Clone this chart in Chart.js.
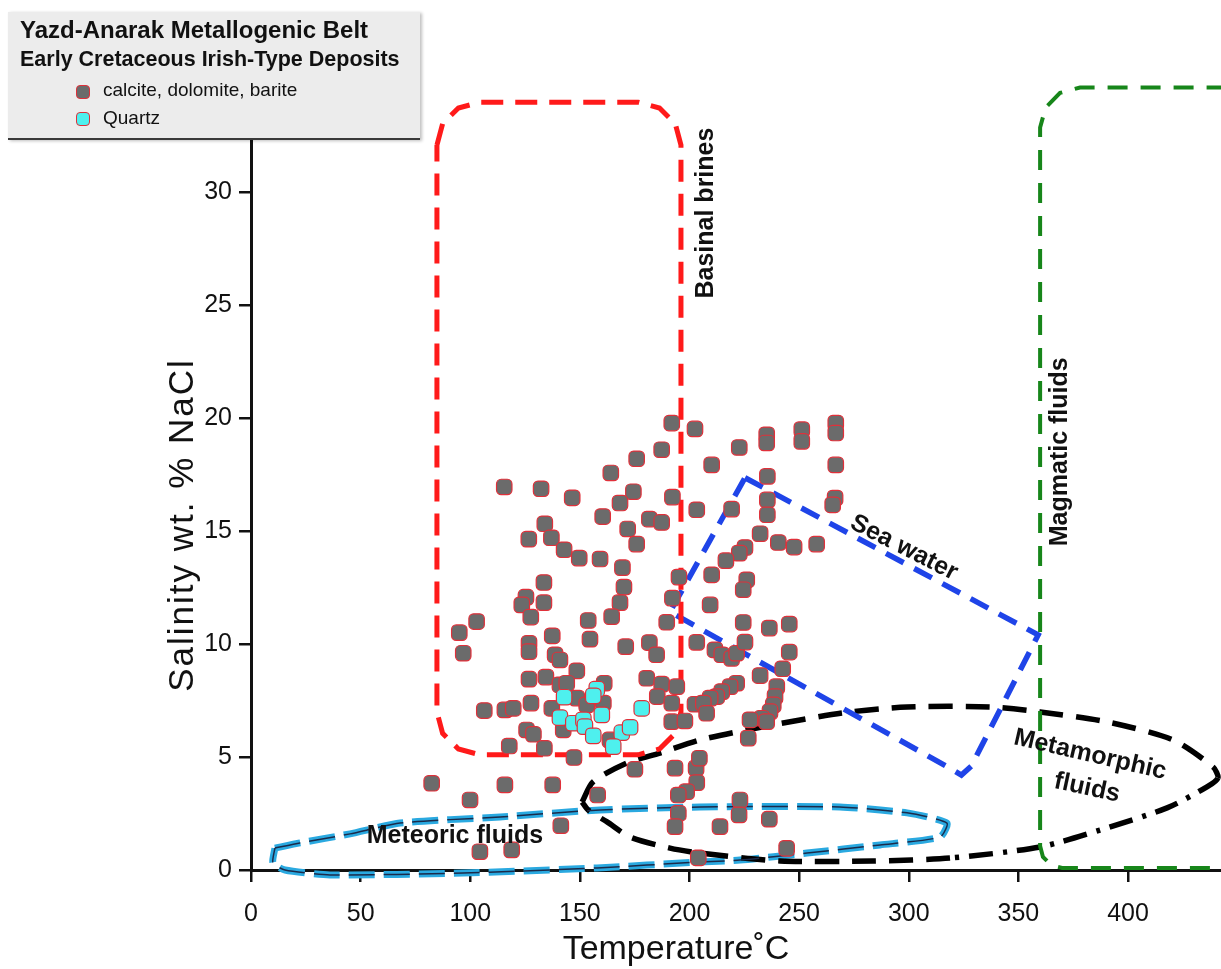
<!DOCTYPE html>
<html>
<head>
<meta charset="utf-8">
<script src="https://cdn.jsdelivr.net/npm/chart.js@4.4.1/dist/chart.umd.min.js"></script>
<style>
  html, body { margin: 0; background: #fff; overflow: hidden; }
  #wrap { position: relative; width: 1221px; height: 969px; }
  #chart { display: block; }
  #key {
    position: absolute; left: 8px; top: 12px; width: 412px; height: 126px;
    background: #ececec; border-bottom: 2px solid #3a3a3a;
    box-shadow: 2px 1px 3px rgba(0,0,0,0.25);
    font-family: "Liberation Sans", Arial, sans-serif; color: #111;
  }
  #key div { position: absolute; white-space: nowrap; line-height: 1; }
  .t1 { left: 12px; top: 6px; font-size: 24px; font-weight: bold; }
  .t2 { left: 12px; top: 37px; font-size: 21.5px; font-weight: bold; }
  .lab { left: 95px; font-size: 19px; }
  .mk { left: 68px; width: 12px; height: 12px; border-radius: 4px; border: 1.5px solid #e0303a; }
</style>
</head>
<body>
<div id="wrap">
  <canvas id="chart" width="1221" height="969"></canvas>
  <div id="key">
    <div class="t1">Yazd-Anarak Metallogenic Belt</div>
    <div class="t2">Early Cretaceous Irish-Type Deposits</div>
    <div class="mk" style="top:73px;background:#6b6b6b"></div>
    <div class="lab" style="top:68px">calcite, dolomite, barite</div>
    <div class="mk" style="top:100px;background:#4ef0ee"></div>
    <div class="lab" style="top:96px">Quartz</div>
  </div>
</div>
<script>
// axis ticks
const xTicks = [0, 50, 100, 150, 200, 250, 300, 350, 400];
const yTicks = [0, 5, 10, 15, 20, 25, 30];

// fluid inclusions, calcite / dolomite / barite: homogenisation temp (C) and salinity (wt.% NaCl)
const calciteT = [191.9, 202.5, 187.3, 175.9, 164.1, 115.5, 132.3, 146.5, 174.4, 168.3,
  192.2, 160.4, 181.7, 187.3, 203.3, 134.0, 126.7, 137.0, 171.8, 175.9,
  142.8, 149.7, 159.2, 169.4, 133.6, 170.1, 195.2, 192.2, 125.4, 133.6,
  168.3, 123.5, 222.7, 210.1, 235.2, 235.2, 251.2, 251.2, 266.7, 266.7,
  266.7, 235.5, 219.2, 235.5, 235.5, 266.4, 265.3, 232.2, 240.5, 247.7,
  258.0, 225.3, 222.7, 216.6, 210.1, 226.1, 224.5, 209.4, 127.6, 102.9,
  153.8, 164.5, 189.6, 95.0, 137.4, 154.6, 126.8, 126.8, 96.8, 170.9,
  181.7, 185.0, 138.7, 140.9, 148.6, 126.8, 134.5, 140.9, 144.0, 161.1,
  180.5, 187.3, 194.2, 185.3, 127.7, 148.6, 153.1, 160.7, 137.2, 106.4,
  115.8, 119.6, 191.9, 202.5, 142.4, 125.7, 128.8, 191.9, 197.9, 117.8,
  133.8, 147.3, 163.7, 175.1, 193.4, 203.0, 82.4, 115.8, 137.6, 224.5,
  236.4, 245.5, 203.3, 211.6, 214.7, 219.2, 221.5, 225.3, 245.5, 242.5,
  232.2, 221.5, 218.5, 214.7, 212.4, 209.4, 206.3, 207.8, 239.8, 239.0,
  238.2, 236.7, 232.9, 227.6, 235.2, 226.8, 204.5, 203.3, 198.7, 194.9,
  223.0, 222.6, 194.9, 193.4, 213.9, 236.4, 204.0, 244.3, 99.9, 158.1,
  141.3, 104.4, 118.9];
const calciteS = [19.79, 19.53, 18.61, 18.21, 17.58, 16.96, 16.88, 16.48, 16.75, 16.25,
  16.51, 15.65, 15.54, 15.39, 15.95, 15.33, 14.65, 14.71, 15.10, 14.43,
  14.18, 13.81, 13.77, 13.39, 12.73, 12.53, 12.97, 12.04, 12.08, 11.84,
  11.84, 11.74, 18.71, 17.94, 19.27, 18.91, 19.50, 18.98, 19.79, 19.35,
  17.94, 17.43, 15.98, 16.39, 15.73, 16.47, 16.17, 14.89, 14.50, 14.30,
  14.43, 14.28, 14.03, 13.70, 13.07, 12.85, 12.41, 11.74, 11.20, 11.00,
  11.05, 11.22, 10.97, 10.51, 10.37, 10.22, 10.04, 9.67, 9.60, 9.89,
  10.07, 9.53, 9.53, 9.30, 8.82, 8.45, 8.54, 8.20, 8.27, 8.27,
  8.49, 8.23, 8.12, 7.68, 7.39, 7.61, 7.31, 7.39, 7.16, 7.06,
  7.09, 7.16, 7.39, 7.34, 6.20, 6.20, 6.01, 6.57, 6.60, 5.49,
  5.39, 4.98, 5.76, 4.46, 4.51, 4.51, 3.84, 3.77, 3.77, 10.96,
  10.71, 10.89, 10.08, 9.75, 9.53, 9.37, 9.60, 10.09, 9.65, 8.91,
  8.61, 8.27, 8.12, 7.90, 7.68, 7.61, 7.39, 6.94, 8.12, 7.68,
  7.31, 7.01, 6.72, 6.65, 6.57, 5.84, 4.95, 3.87, 3.47, 3.32,
  3.10, 2.44, 2.51, 1.92, 1.92, 2.25, 0.54, 0.96, 3.10, 3.32,
  1.96, 0.81, 0.89];

// fluid inclusions in quartz
const quartzT = [142.8, 157.7, 156.1, 140.9, 147.0, 151.6, 152.3, 160.0, 156.1, 178.2, 169.1, 172.9, 165.2];
const quartzS = [7.65, 8.01, 7.71, 6.75, 6.50, 6.65, 6.35, 6.87, 5.94, 7.16, 6.08, 6.32, 5.46];

// fluid fields, outlines as [temp, salinity]
const basinalBrines = [[84.8, 32.1], [87.4, 33.05], [94.6, 33.74], [104.4, 34.0], [176.5, 34.0],
  [186.3, 33.74], [193.5, 33.05], [196.1, 32.1], [196.1, 7.0], [193.5, 6.05], [186.3, 5.36],
  [176.5, 5.1], [104.4, 5.1], [94.6, 5.36], [87.4, 6.05], [84.8, 7.0], [84.8, 32.1]];
const magmaticFluids = [[460, 34.65], [378.1, 34.65], [369.0, 34.41], [362.4, 33.76], [359.9, 32.88],
  [359.9, 1.06], [361.2, 0.58], [364.9, 0.22], [369.9, 0.09], [460, 0.09]];
const seaWater = [[225.3, 17.37], [359.0, 10.41], [328.5, 4.6], [324.0, 4.2], [318.0, 4.55],
  [191.1, 11.43], [225.3, 17.37]];
const metamorphicFluids = [[151.0, 3.01], [156.0, 3.90], [171.5, 4.74], [186.5, 5.18], [204.8, 5.76],
  [233.5, 6.34], [270.0, 6.96], [299.2, 7.22], [337.1, 7.22], [359.9, 7.00], [390.4, 6.56],
  [420.5, 5.76], [438.8, 4.56], [441.0, 4.08], [436.0, 3.68], [417.8, 2.75], [387.2, 1.77],
  [359.9, 1.02], [318.8, 0.53], [283.7, 0.40], [241.3, 0.40], [204.8, 0.75], [191.1, 0.97],
  [172.9, 1.46], [162.4, 2.13], [153.7, 2.66], [151.0, 3.01]];
const meteoricFluids = [[10.9, 0.97], [22.3, 1.20], [45.2, 1.60], [68.0, 2.08], [113.6, 2.35],
  [159.2, 2.66], [204.8, 2.79], [268.6, 2.79], [299.2, 2.53], [317.4, 2.08], [314.3, 1.46],
  [286.9, 1.11], [253.6, 0.75], [223.0, 0.44], [203.4, 0.35], [157.8, 0.09], [96.7, -0.13],
  [36.0, -0.22], [15.5, 0.0], [10.0, 0.31], [10.9, 0.97]];

const FONT = '"Liberation Sans", Arial, sans-serif';

function toXY(xs, ys) {
  return xs.map((v, i) => ({ x: v, y: ys[i] }));
}

function outline(pts, color, width, dash, extra) {
  return Object.assign({
    data: pts.map(p => ({ x: p[0], y: p[1] })),
    showLine: true,
    borderColor: color,
    borderWidth: width,
    borderDash: dash,
    pointRadius: 0,
    fill: false,
    tension: 0,
    order: 2
  }, extra || {});
}

function inclusions(xs, ys, fill, order) {
  return {
    data: toXY(xs, ys),
    pointStyle: 'rectRounded',
    pointRadius: 9,
    backgroundColor: fill,
    borderColor: '#e0303a',
    borderWidth: 1.2,
    order: order
  };
}

// text on the diagram: field names and axis titles
const fieldLabels = {
  id: 'fieldLabels',
  afterDatasetsDraw(chart) {
    const { ctx, chartArea, scales: { x, y } } = chart;
    const notes = [
      ['Basinal brines', 207.5, 29.09, -90],
      ['Magmatic fluids', 369.0, 18.52, -90],
      ['Sea water', 297.8, 14.27, 27],
      ['Metamorphic', 382.7, 5.10, 13],
      ['fluids', 381.3, 3.63, 12],
      ['Meteoric fluids', 93.0, 1.51, 0]
    ];
    ctx.save();
    ctx.fillStyle = '#111';
    ctx.textAlign = 'center';
    ctx.textBaseline = 'middle';
    ctx.font = 'bold 25px ' + FONT;
    notes.forEach(n => {
      ctx.save();
      ctx.translate(x.getPixelForValue(n[1]), y.getPixelForValue(n[2]));
      ctx.rotate(n[3] * Math.PI / 180);
      ctx.fillText(n[0], 0, 0);
      ctx.restore();
    });

    ctx.font = '34px ' + FONT;
    ctx.fillText('Temperature˚C', chartArea.left + 425, 950);
    ctx.save();
    ctx.font = '35px ' + FONT;
    ctx.letterSpacing = '2px';
    ctx.translate(183, 525);
    ctx.rotate(-Math.PI / 2);
    ctx.fillText('Salinity wt. % NaCl', 0, 0);
    ctx.restore();
    ctx.restore();
  }
};

const axisStyle = {
  grid: { drawOnChartArea: false, drawTicks: true, tickLength: 12, color: '#111', lineWidth: 2.5 },
  border: { display: true, color: '#111', width: 3 }
};

new Chart(document.getElementById('chart'), {
  type: 'scatter',
  data: {
    datasets: [
      inclusions(calciteT, calciteS, '#6b6b6b', 0),
      inclusions(quartzT, quartzS, '#4ef0ee', -1),
      outline(basinalBrines, '#ff1a1a', 5, [22, 12]),
      outline(magmaticFluids, '#17861a', 4, [20, 13]),
      outline(seaWater, '#1f44e8', 5.5, [20, 12]),
      outline(metamorphicFluids, '#000', 5.5, [24, 13], {
        tension: 0.25,
        segment: {
          borderDash: ctx => (ctx.p0DataIndex >= 13 && ctx.p0DataIndex < 18) ? [24, 10, 4, 10] : undefined
        }
      }),
      outline(meteoricFluids, '#2aa9e0', 7, [26, 9], { tension: 0.2, clip: false }),
      outline(meteoricFluids, '#1b2a4a', 1.5, [26, 9], { tension: 0.2, clip: false, order: 1 })
    ]
  },
  options: {
    responsive: false,
    animation: false,
    events: [],
    layout: { autoPadding: false, padding: { top: 57, right: 0, bottom: 0, left: 0 } },
    plugins: {
      legend: { display: false },
      tooltip: { enabled: false }
    },
    scales: {
      x: Object.assign({
        type: 'linear',
        min: 0,
        max: 442.4,
        afterBuildTicks: s => { s.ticks = xTicks.map(v => ({ value: v })); },
        afterFit: s => { s.height = 99; s.paddingLeft = 0; s.paddingRight = 0; },
        ticks: { font: { size: 25, family: FONT }, color: '#111', padding: 17, maxRotation: 0 }
      }, axisStyle),
      y: Object.assign({
        type: 'linear',
        min: 0,
        max: 36,
        afterBuildTicks: s => { s.ticks = yTicks.map(v => ({ value: v })); },
        afterFit: s => { s.width = 251; s.paddingTop = 0; s.paddingBottom = 0; },
        ticks: { font: { size: 25, family: FONT }, color: '#111', padding: 7 }
      }, axisStyle)
    }
  },
  plugins: [fieldLabels]
});
</script>
</body>
</html>
